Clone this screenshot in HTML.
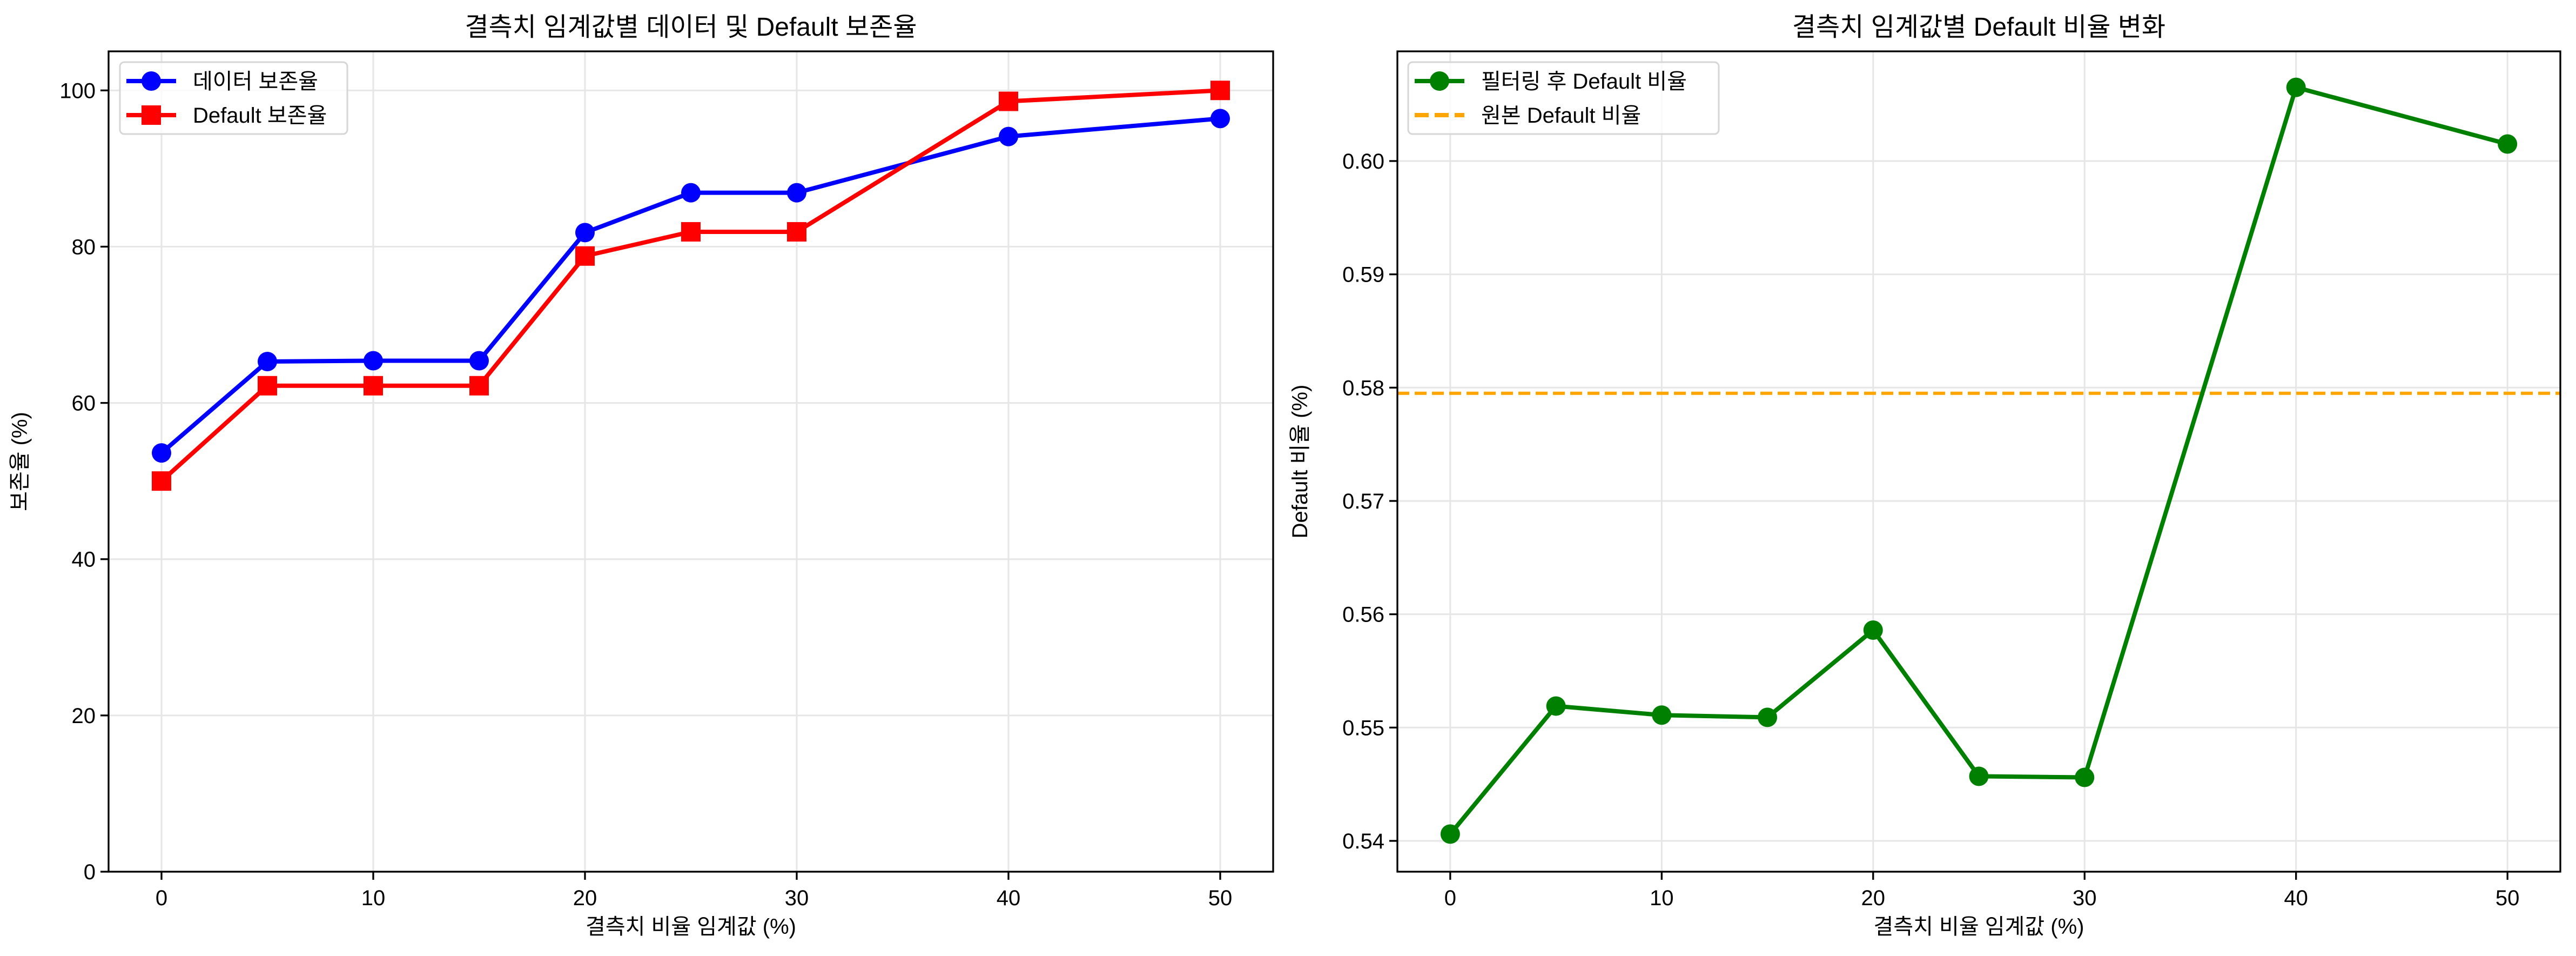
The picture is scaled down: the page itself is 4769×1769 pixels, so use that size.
<!DOCTYPE html>
<html><head><meta charset="utf-8">
<style>
html,body{margin:0;padding:0;background:#fff;}
svg{display:block;}
text{font-family:"Liberation Sans","Noto Sans CJK KR",sans-serif;fill:#000;}
</style></head>
<body>
<svg id="chart" xmlns="http://www.w3.org/2000/svg" width="4769" height="1769" viewBox="0 0 4769 1769">
<rect width="4769" height="1769" fill="#fff"/>
<g id="left"></g>
<g id="right"></g>
</svg>
<script>
const thresholds = [0, 5, 10, 15, 20, 25, 30, 40, 50];
const dataRetention = [53.6, 65.3, 65.4, 65.4, 81.8, 86.9, 86.9, 94.1, 96.4];
const defaultRetention = [50.0, 62.2, 62.2, 62.2, 78.8, 81.9, 81.9, 98.6, 100.0];
const filteredDefaultRatio = [0.5406, 0.5519, 0.5511, 0.5509, 0.5586, 0.5457, 0.5456, 0.6065, 0.6015];
const originalDefaultRatio = 0.5795;
const xTicks = [0, 10, 20, 30, 40, 50];
const leftYTicks = [0, 20, 40, 60, 80, 100];
const rightYTicks = [0.54, 0.55, 0.56, 0.57, 0.58, 0.59, 0.60];
const rightYTickLabels = ["0.54", "0.55", "0.56", "0.57", "0.58", "0.59", "0.60"];

const NS = "http://www.w3.org/2000/svg";
function mk(parent, tag, attrs, text) {
  const e = document.createElementNS(NS, tag);
  for (const k in attrs) e.setAttribute(k, attrs[k]);
  if (text !== undefined) e.textContent = text;
  parent.appendChild(e);
  return e;
}
const TOP = 95, BOT = 1613;

function axes(g, L, R, xmin, xmax, ymin, ymax, yTicks, yLabels, title, ylab, ylabX) {
  const sx = v => L + (v - xmin) / (xmax - xmin) * (R - L);
  const sy = v => BOT - (v - ymin) / (ymax - ymin) * (BOT - TOP);
  xTicks.forEach(t => {
    const gl = mk(g, 'line', {x1: sx(t), x2: sx(t), y1: TOP, y2: BOT, stroke: '#e6e6e6', 'stroke-width': 3});
    
    
    const tk = mk(g, 'line', {x1: sx(t), x2: sx(t), y1: BOT, y2: BOT + 15, stroke: '#000', 'stroke-width': 3.3});
    
    
    const tl = mk(g, 'text', {x: sx(t), y: BOT + 62, 'font-size': 40, 'text-anchor': 'middle'}, String(t));
    
    
  });
  yTicks.forEach((t, i) => {
    const gl = mk(g, 'line', {x1: L, x2: R, y1: sy(t), y2: sy(t), stroke: '#e6e6e6', 'stroke-width': 3});
    
    
    const tk = mk(g, 'line', {x1: L - 15, x2: L, y1: sy(t), y2: sy(t), stroke: '#000', 'stroke-width': 3.3});
    
    
    const tl = mk(g, 'text', {x: L - 24, y: sy(t) + 14, 'font-size': 40, 'text-anchor': 'end'}, yLabels[i]);
    
    
  });
  const tt = mk(g, 'text', {x: (L + R) / 2, y: 66, 'font-size': 48, 'text-anchor': 'middle'}, title);
  
  
  const xl = mk(g, 'text', {x: (L + R) / 2, y: 1728, 'font-size': 40, 'text-anchor': 'middle'}, '결측치 비율 임계값 (%)');
  
  
  const yl = mk(g, 'text', {x: ylabX, y: (TOP + BOT) / 2, 'font-size': 40, 'text-anchor': 'middle', transform: `rotate(-90 ${ylabX} ${(TOP + BOT) / 2})`}, ylab);
  
  
  return {sx, sy};
}
function frame(g, L, R) {
  const f = mk(g, 'rect', {x: L, y: TOP, width: R - L, height: BOT - TOP, fill: 'none', stroke: '#000', 'stroke-width': 3.3});
  
  
}
function series(g, sx, sy, xs, ys, color, marker, name) {
  const pts = xs.map((x, i) => sx(x) + ',' + sy(ys[i])).join(' ');
  const pl = mk(g, 'polyline', {points: pts, fill: 'none', stroke: color, 'stroke-width': 8, 'stroke-linejoin': 'round'});
  
  
  xs.forEach((x, i) => {
    let m;
    if (marker === 'o') m = mk(g, 'circle', {cx: sx(x), cy: sy(ys[i]), r: 18, fill: color});
    else m = mk(g, 'rect', {x: sx(x) - 18, y: sy(ys[i]) - 18, width: 36, height: 36, fill: color});
    
    
  });
}
function legend(g, x, y, w, entries) {
  const lg = mk(g, 'g', {});
  
  
  mk(lg, 'rect', {x: x, y: y, width: w, height: 133, rx: 8, fill: '#fff', 'fill-opacity': 0.8, stroke: '#d6d6d6', 'stroke-width': 3});
  entries.forEach((e, i) => {
    const ry = y + 35 + i * 63;
    const eg = mk(lg, 'g', {});
    
    
    if (e.dash) mk(eg, 'line', {x1: x + 12, x2: x + 104, y1: ry, y2: ry, stroke: e.color, 'stroke-width': 8, 'stroke-dasharray': '26 11'});
    else mk(eg, 'line', {x1: x + 12, x2: x + 104, y1: ry, y2: ry, stroke: e.color, 'stroke-width': 8});
    if (e.marker === 'o') mk(eg, 'circle', {cx: x + 58, cy: ry, r: 18, fill: e.color});
    if (e.marker === 's') mk(eg, 'rect', {x: x + 40, y: ry - 18, width: 36, height: 36, fill: e.color});
    mk(eg, 'text', {x: x + 135, y: ry + 14, 'font-size': 40}, e.label);
  });
}

// Left chart
(function(){
  const g = document.getElementById('left');
  const L = 201, R = 2357;
  const {sx, sy} = axes(g, L, R, -2.5, 52.5, 0, 105, leftYTicks, leftYTicks.map(String),
    '결측치 임계값별 데이터 및 Default 보존율', '보존율 (%)', 50);
  series(g, sx, sy, thresholds, dataRetention, '#0000ff', 'o', 'data-retention');
  series(g, sx, sy, thresholds, defaultRetention, '#ff0000', 's', 'default-retention');
  frame(g, L, R);
  legend(g, 222, 115, 421, [
    {color: '#0000ff', marker: 'o', label: '데이터 보존율'},
    {color: '#ff0000', marker: 's', label: 'Default 보존율'}]);
})();

// Right chart
(function(){
  const g = document.getElementById('right');
  const L = 2587, R = 4740;
  const {sx, sy} = axes(g, L, R, -2.5, 52.5, 0.53728, 0.60968, rightYTicks, rightYTickLabels,
    '결측치 임계값별 Default 비율 변화', 'Default 비율 (%)', 2420);
  const hl = mk(g, 'line', {x1: L, x2: R, y1: sy(originalDefaultRatio), y2: sy(originalDefaultRatio), stroke: '#ffa500', 'stroke-width': 6, 'stroke-dasharray': '22 10'});
  
  
  series(g, sx, sy, thresholds, filteredDefaultRatio, '#008000', 'o', 'filtered-default-ratio');
  frame(g, L, R);
  legend(g, 2607, 115, 575, [
    {color: '#008000', marker: 'o', label: '필터링 후 Default 비율'},
    {color: '#ffa500', dash: true, label: '원본 Default 비율'}]);
})();
</script>
</body></html>
